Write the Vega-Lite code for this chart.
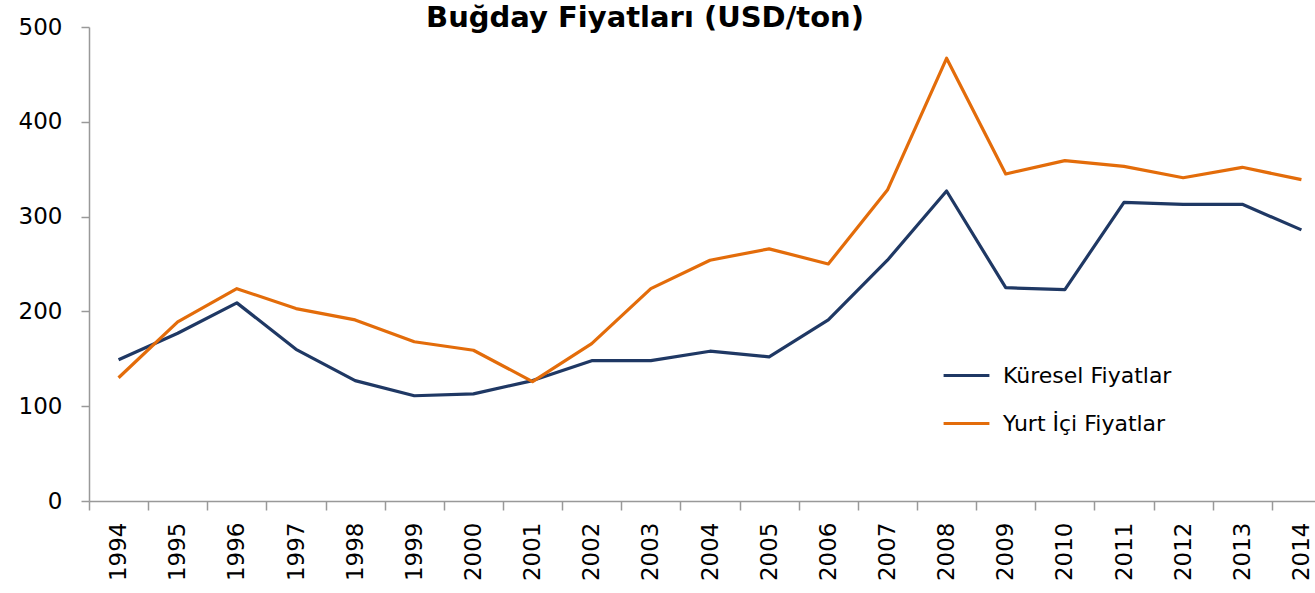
{
  "$schema": "https://vega.github.io/schema/vega-lite/v6.json",
  "autosize": {"type": "none"},
  "padding": {"left": 89, "top": 27, "right": 0, "bottom": 92},
  "width": 1242,
  "height": 474,
  "background": "white",
  "view": {"stroke": null},
  "title": {
    "text": "Buğday Fiyatları (USD/ton)",
    "font": "DejaVu Sans",
    "fontSize": 29,
    "fontWeight": "bold",
    "color": "#000000",
    "anchor": "middle",
    "dx": -65,
    "offset": -17
  },
  "data": {
    "values": [
      {"year": "1994", "series": "Küresel Fiyatlar", "value": 149},
      {"year": "1995", "series": "Küresel Fiyatlar", "value": 177},
      {"year": "1996", "series": "Küresel Fiyatlar", "value": 209},
      {"year": "1997", "series": "Küresel Fiyatlar", "value": 160},
      {"year": "1998", "series": "Küresel Fiyatlar", "value": 127},
      {"year": "1999", "series": "Küresel Fiyatlar", "value": 111},
      {"year": "2000", "series": "Küresel Fiyatlar", "value": 113},
      {"year": "2001", "series": "Küresel Fiyatlar", "value": 127},
      {"year": "2002", "series": "Küresel Fiyatlar", "value": 148},
      {"year": "2003", "series": "Küresel Fiyatlar", "value": 148},
      {"year": "2004", "series": "Küresel Fiyatlar", "value": 158},
      {"year": "2005", "series": "Küresel Fiyatlar", "value": 152},
      {"year": "2006", "series": "Küresel Fiyatlar", "value": 191},
      {"year": "2007", "series": "Küresel Fiyatlar", "value": 254},
      {"year": "2008", "series": "Küresel Fiyatlar", "value": 327},
      {"year": "2009", "series": "Küresel Fiyatlar", "value": 225},
      {"year": "2010", "series": "Küresel Fiyatlar", "value": 223},
      {"year": "2011", "series": "Küresel Fiyatlar", "value": 315},
      {"year": "2012", "series": "Küresel Fiyatlar", "value": 313},
      {"year": "2013", "series": "Küresel Fiyatlar", "value": 313},
      {"year": "2014", "series": "Küresel Fiyatlar", "value": 286},
      {"year": "1994", "series": "Yurt İçi Fiyatlar", "value": 130},
      {"year": "1995", "series": "Yurt İçi Fiyatlar", "value": 189},
      {"year": "1996", "series": "Yurt İçi Fiyatlar", "value": 224},
      {"year": "1997", "series": "Yurt İçi Fiyatlar", "value": 203},
      {"year": "1998", "series": "Yurt İçi Fiyatlar", "value": 191},
      {"year": "1999", "series": "Yurt İçi Fiyatlar", "value": 168},
      {"year": "2000", "series": "Yurt İçi Fiyatlar", "value": 159},
      {"year": "2001", "series": "Yurt İçi Fiyatlar", "value": 126},
      {"year": "2002", "series": "Yurt İçi Fiyatlar", "value": 166},
      {"year": "2003", "series": "Yurt İçi Fiyatlar", "value": 224},
      {"year": "2004", "series": "Yurt İçi Fiyatlar", "value": 254},
      {"year": "2005", "series": "Yurt İçi Fiyatlar", "value": 266},
      {"year": "2006", "series": "Yurt İçi Fiyatlar", "value": 250},
      {"year": "2007", "series": "Yurt İçi Fiyatlar", "value": 328},
      {"year": "2008", "series": "Yurt İçi Fiyatlar", "value": 467},
      {"year": "2009", "series": "Yurt İçi Fiyatlar", "value": 345},
      {"year": "2010", "series": "Yurt İçi Fiyatlar", "value": 359},
      {"year": "2011", "series": "Yurt İçi Fiyatlar", "value": 353},
      {"year": "2012", "series": "Yurt İçi Fiyatlar", "value": 341},
      {"year": "2013", "series": "Yurt İçi Fiyatlar", "value": 352},
      {"year": "2014", "series": "Yurt İçi Fiyatlar", "value": 339}
    ]
  },
  "mark": {"type": "line", "strokeWidth": 3.2, "strokeJoin": "round"},
  "encoding": {
    "x": {
      "field": "year",
      "type": "ordinal",
      "scale": {"type": "band", "paddingInner": 0, "paddingOuter": 0},
      "axis": {
        "title": null,
        "tickBand": "extent",
        "labelAngle": -90,
        "labelFont": "DejaVu Sans",
        "labelFontSize": 23,
        "labelColor": "#000000",
        "labelPadding": 12,
        "tickSize": 9,
        "tickColor": "#999999",
        "domainColor": "#999999",
        "domainWidth": 1.5,
        "tickWidth": 1.5,
        "grid": false
      }
    },
    "y": {
      "field": "value",
      "type": "quantitative",
      "scale": {"domain": [0, 500], "nice": false},
      "axis": {
        "title": null,
        "values": [0, 100, 200, 300, 400, 500],
        "labelFont": "DejaVu Sans",
        "labelFontSize": 23,
        "labelColor": "#000000",
        "labelPadding": 19,
        "tickSize": 8,
        "tickColor": "#999999",
        "domainColor": "#999999",
        "domainWidth": 1.5,
        "tickWidth": 1.5,
        "grid": false
      }
    },
    "color": {
      "field": "series",
      "type": "nominal",
      "scale": {
        "domain": ["Küresel Fiyatlar", "Yurt İçi Fiyatlar"],
        "range": ["#1F3864", "#E36C0A"]
      },
      "legend": {
        "title": null,
        "orient": "none",
        "legendX": 853,
        "legendY": 324,
        "symbolType": "stroke",
        "symbolStrokeWidth": 3,
        "symbolSize": 2100,
        "labelFont": "DejaVu Sans",
        "labelFontSize": 22,
        "labelColor": "#000000",
        "labelOffset": 12,
        "labelLimit": 400,
        "rowPadding": 12
      }
    }
  }
}
